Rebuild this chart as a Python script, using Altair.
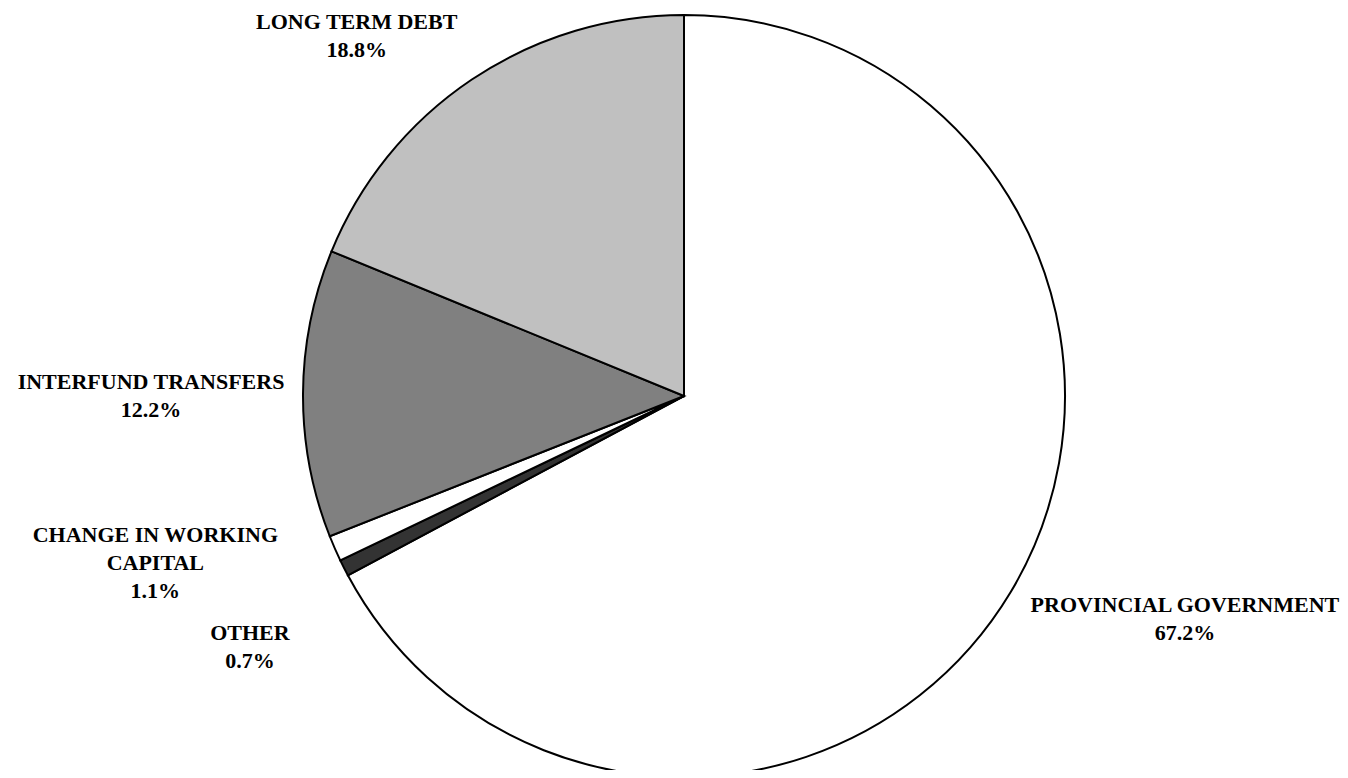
import altair as alt
import pandas as pd

categories = ["PROVINCIAL GOVERNMENT", "OTHER", "CHANGE IN WORKING CAPITAL",
              "INTERFUND TRANSFERS", "LONG TERM DEBT"]
values = [67.2, 0.7, 1.1, 12.2, 18.8]
label_lines = ["PROVINCIAL GOVERNMENT", "OTHER", "CHANGE IN WORKING\nCAPITAL",
               "INTERFUND TRANSFERS", "LONG TERM DEBT"]
colors = ["#ffffff", "#333333", "#ffffff", "#808080", "#c0c0c0"]

df = pd.DataFrame({
    "cat": categories,
    "value": values,
    "order": list(range(len(categories))),
    "label": [f"{l}\n{v:.1f}%" for l, v in zip(label_lines, values)],
})

CX, CY = 676, 388
LH = 28
theta_scale = alt.Scale(domain=[0, 100])

pie = alt.Chart(df).mark_arc(radius=381, stroke="black", strokeWidth=2).encode(
    theta=alt.Theta("value:Q", stack=True, scale=theta_scale),
    color=alt.Color("cat:N", scale=alt.Scale(domain=categories, range=colors), legend=None),
    order=alt.Order("order:Q"),
    x=alt.value(CX),
    y=alt.value(CY),
)

# label placement: (radius, dx, dy of block centre) per category
placement = {
    "PROVINCIAL GOVERNMENT": (548, 31, -59),
    "OTHER": (501, 13, 25),
    "CHANGE IN WORKING CAPITAL": (555, -20, -55),
    "INTERFUND TRANSFERS": (533, 0, 3),
    "LONG TERM DEBT": (489, -55, 46),
}

layers = [pie]
for cat, lab in zip(categories, df["label"]):
    r, dx, dy = placement[cat]
    n = lab.count("\n") + 1
    t = alt.Chart(df).transform_window(
        cum="sum(value)", sort=[alt.SortField("order")]
    ).transform_calculate(
        mid="datum.cum - datum.value / 2"
    ).transform_filter(
        alt.datum.cat == cat
    ).mark_text(
        radius=r, dx=dx, dy=dy - LH * (n - 1) / 2, font="Liberation Serif", fontSize=22,
        fontWeight="bold", lineBreak="\n", lineHeight=LH,
        align="center", baseline="middle", color="black",
    ).encode(
        theta=alt.Theta("mid:Q", stack=False, scale=theta_scale),
        text="label:N",
        x=alt.value(CX),
        y=alt.value(CY),
    )
    layers.append(t)

chart = alt.layer(*layers).properties(
    width=1332, height=762, padding=0, autosize=alt.AutoSizeParams(type="none"),
    background="white",
).configure_view(stroke=None)

chart.save("out.html", embed_options={"renderer": "svg", "actions": False})
